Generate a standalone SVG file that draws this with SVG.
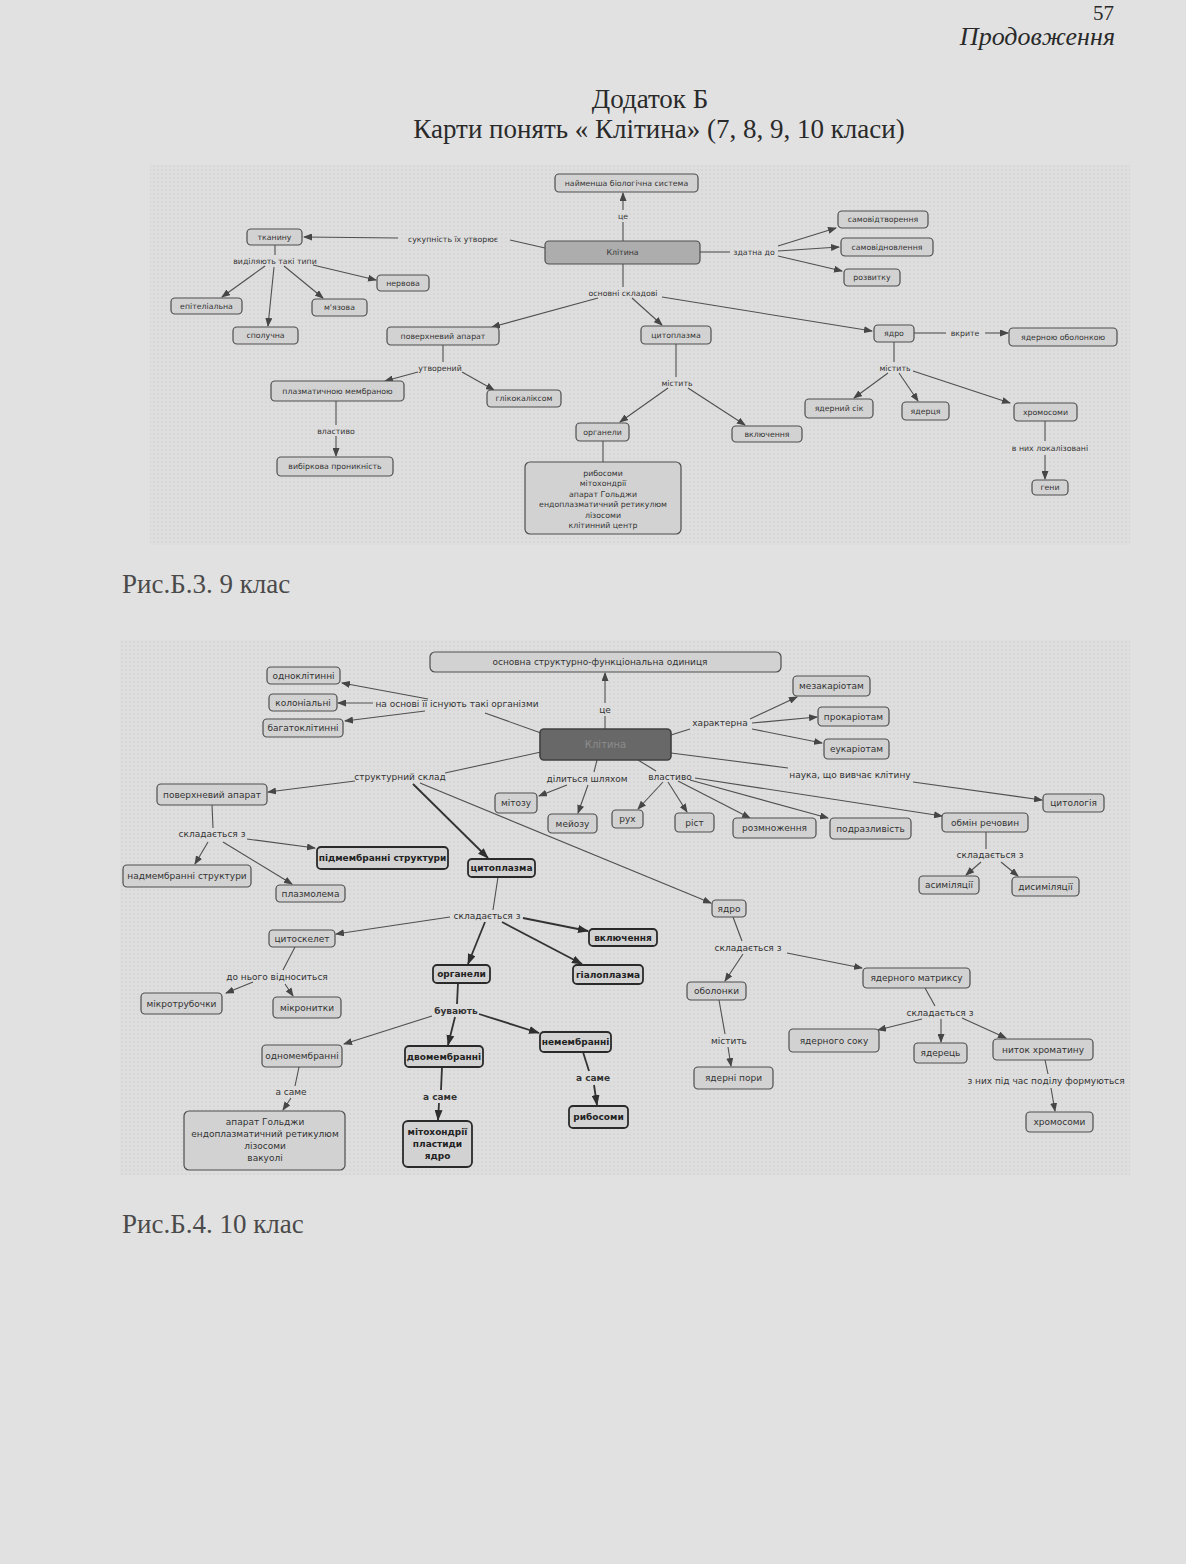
<svg xmlns="http://www.w3.org/2000/svg" width="1186" height="1564" viewBox="0 0 1186 1564">
<style>
.page{fill:#e1e1e1}
.hd{font-family:"Liberation Serif",serif;fill:#2a2a2a}
.cap{font-family:"Liberation Serif",serif;fill:#4a4a4a;font-size:27px}
.n rect{fill:#d2d2d2;stroke:#4e4e4e;stroke-width:1.2}
.n text,.lb{font-family:"DejaVu Sans",sans-serif;fill:#333;text-anchor:middle;dominant-baseline:central}
.t .n text,.t .lb{font-size:7.8px}
.b .n text,.b .lb{font-size:9px}
.b .n.bold rect{stroke:#2a2a2a;stroke-width:1.8}
.b .n.bold text{font-weight:bold;fill:#222}
.c line{stroke:#505050;stroke-width:1.1;fill:none}
.c line.k{stroke:#333;stroke-width:1.8}
</style>
<defs>
<marker id="ah" markerWidth="9" markerHeight="7" refX="8" refY="3.5" orient="auto" markerUnits="userSpaceOnUse"><path d="M0,0 L9,3.5 L0,7 z" fill="#464646"/></marker>
<marker id="ahk" markerWidth="11" markerHeight="8" refX="10" refY="4" orient="auto" markerUnits="userSpaceOnUse"><path d="M0,0 L11,4 L0,8 z" fill="#2e2e2e"/></marker>
<pattern id="dots" width="4" height="4" patternUnits="userSpaceOnUse"><rect width="4" height="4" fill="#dedede"/><circle cx="2" cy="2" r="0.6" fill="#c2c2c2"/></pattern>
<linearGradient id="pg" x1="0" y1="0" x2="0" y2="1"><stop offset="0" stop-color="#e8e8e8"/><stop offset="0.5" stop-color="#e2e2e2"/><stop offset="1" stop-color="#d8d8d8"/></linearGradient>
</defs>
<rect class="page" width="1186" height="1564" fill="url(#pg)"/>
<rect x="150" y="165" width="980" height="380" fill="url(#dots)"/>
<rect x="120" y="640" width="1010" height="535" fill="url(#dots)"/>

<g id="header">
<text class="hd" x="1093" y="20" font-size="21">57</text>
<text class="hd" x="1115" y="45" font-size="26" font-style="italic" text-anchor="end">Продовження</text>
<text class="hd" x="650" y="108" font-size="27" text-anchor="middle">Додаток Б</text>
<text class="hd" x="659" y="138" font-size="27" text-anchor="middle">Карти понять « Клітина» (7, 8, 9, 10 класи)</text>
<text class="cap" x="122" y="593">Рис.Б.3. 9 клас</text>
<text class="cap" x="122" y="1233">Рис.Б.4. 10 клас</text>
</g>

<g class="t">
<g class="c" id="connectors-top">
<line x1="623" y1="241" x2="623" y2="222"/>
<line x1="623" y1="210" x2="623" y2="193" marker-end="url(#ah)"/>
<line x1="545" y1="248" x2="510" y2="240"/>
<line x1="398" y1="238" x2="304" y2="237" marker-end="url(#ah)"/>
<line x1="275" y1="245" x2="275" y2="255"/>
<line x1="265" y1="266" x2="222" y2="297" marker-end="url(#ah)"/>
<line x1="274" y1="267" x2="268" y2="326" marker-end="url(#ah)"/>
<line x1="284" y1="266" x2="323" y2="298" marker-end="url(#ah)"/>
<line x1="313" y1="265" x2="376" y2="280" marker-end="url(#ah)"/>
<line x1="700" y1="252" x2="730" y2="252"/>
<line x1="778" y1="246" x2="836" y2="228" marker-end="url(#ah)"/>
<line x1="778" y1="251" x2="839" y2="247" marker-end="url(#ah)"/>
<line x1="778" y1="256" x2="842" y2="271" marker-end="url(#ah)"/>
<line x1="623" y1="264" x2="623" y2="287"/>
<line x1="598" y1="298" x2="492" y2="327" marker-end="url(#ah)"/>
<line x1="632" y1="298" x2="662" y2="325" marker-end="url(#ah)"/>
<line x1="662" y1="297" x2="872" y2="331" marker-end="url(#ah)"/>
<line x1="914" y1="333" x2="946" y2="333"/>
<line x1="985" y1="333" x2="1008" y2="333" marker-end="url(#ah)"/>
<line x1="443" y1="345" x2="443" y2="362"/>
<line x1="418" y1="372" x2="385" y2="381" marker-end="url(#ah)"/>
<line x1="462" y1="372" x2="494" y2="390" marker-end="url(#ah)"/>
<line x1="336" y1="401" x2="336" y2="425"/>
<line x1="336" y1="436" x2="336" y2="456" marker-end="url(#ah)"/>
<line x1="676" y1="344" x2="676" y2="377"/>
<line x1="668" y1="388" x2="620" y2="422" marker-end="url(#ah)"/>
<line x1="688" y1="388" x2="745" y2="425" marker-end="url(#ah)"/>
<line x1="603" y1="441" x2="603" y2="462"/>
<line x1="894" y1="342" x2="894" y2="362"/>
<line x1="888" y1="373" x2="854" y2="398" marker-end="url(#ah)"/>
<line x1="899" y1="373" x2="918" y2="401" marker-end="url(#ah)"/>
<line x1="913" y1="371" x2="1010" y2="403" marker-end="url(#ah)"/>
<line x1="1045" y1="421" x2="1045" y2="441"/>
<line x1="1045" y1="455" x2="1045" y2="479" marker-end="url(#ah)"/>
</g>
<g id="labels-top">
<text class="lb" x="623" y="216">це</text>
<text class="lb" x="453" y="239">сукупність їх утворює</text>
<text class="lb" x="275" y="261">виділяють такі типи</text>
<text class="lb" x="754" y="252">здатна до</text>
<text class="lb" x="623" y="293">основні складові</text>
<text class="lb" x="965" y="333">вкрите</text>
<text class="lb" x="440" y="368">утворений</text>
<text class="lb" x="336" y="431">властиво</text>
<text class="lb" x="677" y="383">містить</text>
<text class="lb" x="895" y="368">містить</text>
<text class="lb" x="1050" y="448">в них локалізовані</text>
</g>
<g id="t-najmensha" class="n"><rect x="555" y="174" width="143" height="18" rx="4"/><text x="626.5" y="183">найменша біологічна система</text></g>
<g id="t-klityna" class="n"><rect x="545" y="241" width="155" height="23" rx="4" style="fill:#adadad"/><text x="622.5" y="252.5">Клітина</text></g>
<g id="t-tkanynu" class="n"><rect x="247" y="229" width="55" height="16" rx="4"/><text x="274.5" y="237">тканину</text></g>
<g id="t-epitelialna" class="n"><rect x="171" y="298" width="71" height="16" rx="4"/><text x="206.5" y="306">епітеліальна</text></g>
<g id="t-spoluchna" class="n"><rect x="233" y="327" width="65" height="17" rx="4"/><text x="265.5" y="335.5">сполучна</text></g>
<g id="t-miazova" class="n"><rect x="312" y="299" width="55" height="17" rx="4"/><text x="339.5" y="307.5">м'язова</text></g>
<g id="t-nervova" class="n"><rect x="377" y="275" width="52" height="16" rx="4"/><text x="403" y="283">нервова</text></g>
<g id="t-samovidtvorennia" class="n"><rect x="838" y="211" width="90" height="17" rx="4"/><text x="883" y="219.5">самовідтворення</text></g>
<g id="t-samovidnovlennia" class="n"><rect x="841" y="238" width="92" height="18" rx="4"/><text x="887" y="247">самовідновлення</text></g>
<g id="t-rozvytku" class="n"><rect x="844" y="269" width="56" height="17" rx="4"/><text x="872" y="277.5">розвитку</text></g>
<g id="t-poverkhnevyi" class="n"><rect x="387" y="327" width="112" height="18" rx="4"/><text x="443" y="336">поверхневий апарат</text></g>
<g id="t-tsytoplazma" class="n"><rect x="641" y="326" width="70" height="18" rx="4"/><text x="676" y="335">цитоплазма</text></g>
<g id="t-yadro" class="n"><rect x="874" y="325" width="40" height="17" rx="4"/><text x="894" y="333.5">ядро</text></g>
<g id="t-obolonkoiu" class="n"><rect x="1009" y="328" width="108" height="18" rx="4"/><text x="1063" y="337">ядерною оболонкою</text></g>
<g id="t-membranoiu" class="n"><rect x="271" y="381" width="133" height="20" rx="4"/><text x="337.5" y="391">плазматичною мембраною</text></g>
<g id="t-glikokaliks" class="n"><rect x="487" y="390" width="74" height="17" rx="4"/><text x="524" y="398.5">глікокаліксом</text></g>
<g id="t-vybirkova" class="n"><rect x="277" y="457" width="116" height="19" rx="4"/><text x="335" y="466.5">вибіркова проникність</text></g>
<g id="t-organely" class="n"><rect x="576" y="423" width="53" height="18" rx="4"/><text x="602.5" y="432">органели</text></g>
<g id="t-organely-list" class="n"><rect x="525" y="462" width="156" height="72" rx="5"/>
<text x="603" y="473">рибосоми</text><text x="603" y="483.5">мітохондрії</text><text x="603" y="494">апарат Гольджи</text><text x="603" y="504.5">ендоплазматичний ретикулюм</text><text x="603" y="515">лізосоми</text><text x="603" y="525.5">клітинний центр</text></g>
<g id="t-vkliuchennia" class="n"><rect x="732" y="426" width="70" height="16" rx="4"/><text x="767" y="434">включення</text></g>
<g id="t-yadernyi-sik" class="n"><rect x="805" y="399" width="68" height="19" rx="4"/><text x="839" y="408.5">ядерний сік</text></g>
<g id="t-yadertsia" class="n"><rect x="902" y="402" width="47" height="18" rx="4"/><text x="925.5" y="411">ядерця</text></g>
<g id="t-khromosomy" class="n"><rect x="1014" y="403" width="63" height="18" rx="4"/><text x="1045.5" y="412">хромосоми</text></g>
<g id="t-geny" class="n"><rect x="1032" y="480" width="36" height="15" rx="4"/><text x="1050" y="487.5">гени</text></g>
</g>

<g class="b">
<g class="c" id="connectors-bottom">
<line x1="605" y1="729" x2="605" y2="716"/>
<line x1="605" y1="703" x2="605" y2="673" marker-end="url(#ah)"/>
<line x1="541" y1="733" x2="485" y2="713"/>
<line x1="428" y1="699" x2="342" y2="683" marker-end="url(#ah)"/>
<line x1="373" y1="703" x2="338" y2="703" marker-end="url(#ah)"/>
<line x1="425" y1="711" x2="345" y2="721" marker-end="url(#ah)"/>
<line x1="671" y1="735" x2="690" y2="729"/>
<line x1="750" y1="719" x2="797" y2="697" marker-end="url(#ah)"/>
<line x1="752" y1="723" x2="817" y2="717" marker-end="url(#ah)"/>
<line x1="752" y1="729" x2="822" y2="743" marker-end="url(#ah)"/>
<line x1="671" y1="753" x2="788" y2="768"/>
<line x1="913" y1="782" x2="1042" y2="800" marker-end="url(#ah)"/>
<line x1="541" y1="752" x2="445" y2="773"/>
<line x1="355" y1="781" x2="268" y2="792" marker-end="url(#ah)"/>
<line class="k" x1="413" y1="784" x2="488" y2="858" marker-end="url(#ahk)"/>
<line x1="420" y1="783" x2="711" y2="903" marker-end="url(#ah)"/>
<line x1="597" y1="760" x2="594" y2="772"/>
<line x1="567" y1="785" x2="539" y2="796" marker-end="url(#ah)"/>
<line x1="588" y1="785" x2="578" y2="813" marker-end="url(#ah)"/>
<line x1="638" y1="760" x2="656" y2="771"/>
<line x1="663" y1="782" x2="638" y2="809" marker-end="url(#ah)"/>
<line x1="668" y1="782" x2="687" y2="812" marker-end="url(#ah)"/>
<line x1="678" y1="781" x2="750" y2="818" marker-end="url(#ah)"/>
<line x1="690" y1="780" x2="828" y2="818" marker-end="url(#ah)"/>
<line x1="695" y1="778" x2="942" y2="816" marker-end="url(#ah)"/>
<line x1="212" y1="805" x2="213" y2="828"/>
<line x1="247" y1="839" x2="315" y2="848" marker-end="url(#ah)"/>
<line x1="208" y1="842" x2="195" y2="864" marker-end="url(#ah)"/>
<line x1="223" y1="842" x2="292" y2="884" marker-end="url(#ah)"/>
<line x1="498" y1="877" x2="493" y2="910"/>
<line class="k" x1="523" y1="918" x2="588" y2="931" marker-end="url(#ahk)"/>
<line class="k" x1="502" y1="922" x2="582" y2="964" marker-end="url(#ahk)"/>
<line class="k" x1="485" y1="922" x2="468" y2="964" marker-end="url(#ahk)"/>
<line x1="450" y1="917" x2="336" y2="934" marker-end="url(#ah)"/>
<line x1="295" y1="947" x2="283" y2="970"/>
<line x1="253" y1="982" x2="226" y2="993" marker-end="url(#ah)"/>
<line x1="285" y1="984" x2="293" y2="996" marker-end="url(#ah)"/>
<line class="k" x1="458" y1="983" x2="457" y2="1004"/>
<line x1="432" y1="1016" x2="344" y2="1044" marker-end="url(#ah)"/>
<line class="k" x1="455" y1="1017" x2="448" y2="1045" marker-end="url(#ahk)"/>
<line class="k" x1="479" y1="1014" x2="539" y2="1033" marker-end="url(#ahk)"/>
<line x1="299" y1="1067" x2="295" y2="1086"/>
<line x1="291" y1="1098" x2="283" y2="1110" marker-end="url(#ah)"/>
<line class="k" x1="442" y1="1067" x2="441" y2="1090"/>
<line class="k" x1="439" y1="1103" x2="438" y2="1120" marker-end="url(#ahk)"/>
<line class="k" x1="583" y1="1052" x2="589" y2="1071"/>
<line class="k" x1="594" y1="1085" x2="597" y2="1105" marker-end="url(#ahk)"/>
<line x1="733" y1="917" x2="742" y2="941"/>
<line x1="743" y1="954" x2="725" y2="981" marker-end="url(#ah)"/>
<line x1="787" y1="953" x2="862" y2="968" marker-end="url(#ah)"/>
<line x1="719" y1="1000" x2="725" y2="1034"/>
<line x1="728" y1="1047" x2="731" y2="1066" marker-end="url(#ah)"/>
<line x1="986" y1="832" x2="986" y2="849"/>
<line x1="981" y1="862" x2="966" y2="875" marker-end="url(#ah)"/>
<line x1="1001" y1="862" x2="1018" y2="876" marker-end="url(#ah)"/>
<line x1="925" y1="988" x2="935" y2="1006"/>
<line x1="922" y1="1019" x2="878" y2="1030" marker-end="url(#ah)"/>
<line x1="941" y1="1019" x2="941" y2="1042" marker-end="url(#ah)"/>
<line x1="962" y1="1018" x2="1006" y2="1038" marker-end="url(#ah)"/>
<line x1="1045" y1="1060" x2="1048" y2="1074"/>
<line x1="1051" y1="1088" x2="1055" y2="1111" marker-end="url(#ah)"/>
</g>
<g id="labels-bottom">
<text class="lb" x="605" y="710">це</text>
<text class="lb" x="457" y="704">на основі її існують такі організми</text>
<text class="lb" x="720" y="723">характерна</text>
<text class="lb" x="850" y="775">наука, що вивчає клітину</text>
<text class="lb" x="400" y="777">структурний склад</text>
<text class="lb" x="587" y="779">ділиться шляхом</text>
<text class="lb" x="670" y="777">властиво</text>
<text class="lb" x="212" y="834">складається з</text>
<text class="lb" x="487" y="916">складається з</text>
<text class="lb" x="277" y="977">до нього відноситься</text>
<text class="lb" x="456" y="1011" style="font-weight:bold">бувають</text>
<text class="lb" x="291" y="1092">а саме</text>
<text class="lb" x="440" y="1097" style="font-weight:bold">а саме</text>
<text class="lb" x="593" y="1078" style="font-weight:bold">а саме</text>
<text class="lb" x="748" y="948">складається з</text>
<text class="lb" x="729" y="1041">містить</text>
<text class="lb" x="990" y="855">складається з</text>
<text class="lb" x="940" y="1013">складається з</text>
<text class="lb" x="1046" y="1081">з них під час поділу формуються</text>
</g>
<g id="b-osnovna" class="n"><rect x="430" y="652" width="351" height="20" rx="5"/><text x="600" y="662">основна структурно-функціональна одиниця</text></g>
<g id="b-odnoklitynni" class="n"><rect x="267" y="667" width="73" height="17" rx="4"/><text x="303.5" y="675.5">одноклітинні</text></g>
<g id="b-kolonialni" class="n"><rect x="269" y="694" width="68" height="17" rx="4"/><text x="303" y="702.5">колоніальні</text></g>
<g id="b-bagatoklitynni" class="n"><rect x="263" y="719" width="80" height="18" rx="4"/><text x="303" y="728">багатоклітинні</text></g>
<g id="b-klityna" class="n"><rect x="540" y="729" width="131" height="31" rx="4" style="fill:#686868;stroke:#404040;stroke-width:1.6"/><text x="605.5" y="744.5" style="fill:#8c8c8c;font-size:10px">Клітина</text></g>
<g id="b-mezakariotam" class="n"><rect x="793" y="676" width="77" height="20" rx="4"/><text x="831.5" y="686">мезакаріотам</text></g>
<g id="b-prokariotam" class="n"><rect x="818" y="707" width="71" height="19" rx="4"/><text x="853.5" y="716.5">прокаріотам</text></g>
<g id="b-eukariotam" class="n"><rect x="824" y="739" width="65" height="20" rx="4"/><text x="856.5" y="749">еукаріотам</text></g>
<g id="b-tsytologiia" class="n"><rect x="1043" y="794" width="61" height="18" rx="4"/><text x="1073.5" y="803">цитологія</text></g>
<g id="b-poverkhnevyi" class="n"><rect x="157" y="784" width="110" height="21" rx="4"/><text x="212" y="794.5">поверхневий апарат</text></g>
<g id="b-mitozu" class="n"><rect x="495" y="793" width="42" height="20" rx="4"/><text x="516" y="803">мітозу</text></g>
<g id="b-meiozu" class="n"><rect x="548" y="814" width="49" height="19" rx="4"/><text x="572.5" y="823.5">мейозу</text></g>
<g id="b-rukh" class="n"><rect x="612" y="810" width="31" height="18" rx="4"/><text x="627.5" y="819">рух</text></g>
<g id="b-rist" class="n"><rect x="675" y="813" width="39" height="19" rx="4"/><text x="694.5" y="822.5">ріст</text></g>
<g id="b-rozmnozhennia" class="n"><rect x="733" y="818" width="83" height="20" rx="4"/><text x="774.5" y="828">розмноження</text></g>
<g id="b-podrazlyvist" class="n"><rect x="830" y="818" width="81" height="21" rx="4"/><text x="870.5" y="828.5">подразливість</text></g>
<g id="b-obmin" class="n"><rect x="942" y="813" width="86" height="19" rx="4"/><text x="985" y="822.5">обмін речовин</text></g>
<g id="b-asymiliatsii" class="n"><rect x="919" y="876" width="60" height="18" rx="4"/><text x="949" y="885">асиміляції</text></g>
<g id="b-dysymiliatsii" class="n"><rect x="1012" y="877" width="67" height="19" rx="4"/><text x="1045.5" y="886.5">дисиміляції</text></g>
<g id="b-pidmembranni" class="n bold"><rect x="317" y="847" width="131" height="22" rx="4"/><text x="382.5" y="858">підмембранні структури</text></g>
<g id="b-nadmembranni" class="n"><rect x="123" y="865" width="128" height="22" rx="4"/><text x="187" y="876">надмембранні структури</text></g>
<g id="b-plazmolema" class="n"><rect x="276" y="885" width="69" height="17" rx="4"/><text x="310.5" y="893.5">плазмолема</text></g>
<g id="b-tsytoplazma" class="n bold"><rect x="468" y="859" width="67" height="18" rx="4"/><text x="501.5" y="868">цитоплазма</text></g>
<g id="b-yadro" class="n"><rect x="712" y="900" width="34" height="17" rx="4"/><text x="729" y="908.5">ядро</text></g>
<g id="b-vkliuchennia" class="n bold"><rect x="589" y="929" width="68" height="17" rx="4"/><text x="623" y="937.5">включення</text></g>
<g id="b-gialoplazma" class="n bold"><rect x="573" y="965" width="70" height="19" rx="4"/><text x="608" y="974.5">гіалоплазма</text></g>
<g id="b-organely" class="n bold"><rect x="433" y="965" width="57" height="18" rx="4"/><text x="461.5" y="974">органели</text></g>
<g id="b-tsytoskelet" class="n"><rect x="269" y="930" width="66" height="17" rx="4"/><text x="302" y="938.5">цитоскелет</text></g>
<g id="b-mikrotrubochky" class="n"><rect x="141" y="993" width="81" height="21" rx="4"/><text x="181.5" y="1003.5">мікротрубочки</text></g>
<g id="b-mikronytky" class="n"><rect x="273" y="997" width="68" height="21" rx="4"/><text x="307" y="1007.5">мікронитки</text></g>
<g id="b-obolonky" class="n"><rect x="687" y="982" width="59" height="18" rx="4"/><text x="716.5" y="991">оболонки</text></g>
<g id="b-matryksu" class="n"><rect x="863" y="968" width="107" height="20" rx="4"/><text x="916.5" y="978">ядерного матриксу</text></g>
<g id="b-odnomembranni" class="n"><rect x="262" y="1045" width="80" height="22" rx="4"/><text x="302" y="1056">одномембранні</text></g>
<g id="b-dvomembranni" class="n bold"><rect x="405" y="1046" width="78" height="21" rx="4"/><text x="444" y="1056.5">двомембранні</text></g>
<g id="b-nemembranni" class="n bold"><rect x="540" y="1032" width="71" height="20" rx="4"/><text x="575.5" y="1042">немембранні</text></g>
<g id="b-odno-list" class="n"><rect x="184" y="1111" width="161" height="59" rx="5"/>
<text x="265" y="1122">апарат Гольджи</text><text x="265" y="1134">ендоплазматичний ретикулюм</text><text x="265" y="1146">лізосоми</text><text x="265" y="1158">вакуолі</text></g>
<g id="b-dvo-list" class="n bold"><rect x="403" y="1121" width="69" height="46" rx="5"/>
<text x="437.5" y="1132">мітохондрії</text><text x="437.5" y="1144">пластиди</text><text x="437.5" y="1156">ядро</text></g>
<g id="b-rybosomy" class="n bold"><rect x="569" y="1106" width="59" height="22" rx="4"/><text x="598.5" y="1117">рибосоми</text></g>
<g id="b-yaderni-pory" class="n"><rect x="694" y="1067" width="79" height="22" rx="4"/><text x="733.5" y="1078">ядерні пори</text></g>
<g id="b-yadernogo-soku" class="n"><rect x="789" y="1029" width="90" height="23" rx="4"/><text x="834" y="1040.5">ядерного соку</text></g>
<g id="b-yaderets" class="n"><rect x="914" y="1043" width="53" height="20" rx="4"/><text x="940.5" y="1053">ядерець</text></g>
<g id="b-nytok" class="n"><rect x="993" y="1039" width="100" height="21" rx="4"/><text x="1043" y="1049.5">ниток хроматину</text></g>
<g id="b-khromosomy" class="n"><rect x="1026" y="1112" width="67" height="20" rx="4"/><text x="1059.5" y="1122">хромосоми</text></g>
</g>
</svg>
